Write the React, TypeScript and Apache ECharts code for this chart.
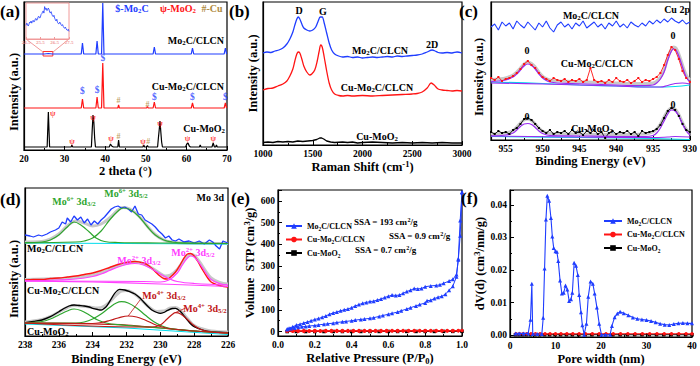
import React, { useEffect, useRef } from 'react';
import * as echarts from 'echarts';

const FF = 'Liberation Serif, Times New Roman, serif';
const BLUE = '#1f3dff';
const RED = '#ff1414';
const BLACK = '#000000';
const BROWN = '#b08a3e';
const GREEN = '#2ea62e';
const MAGENTA = '#ff40ff';
const PURPLE = '#9a2cf0';
const CYAN = '#00dcec';
const DARKRED = '#c01818';
const GREY = '#c8c8c8';
const PINK = '#f09a9a';

// ---------- (a) XRD ----------
const xrdMo2C = [[20,96],[25,96],[26,96.5],[27,96],[34.1,96],[34.4,107],[34.7,96],[37.7,96],[38.0,109],[38.3,96],[39.1,96],[39.4,147],[39.7,96],[51.8,96],[52.1,103],[52.4,96],[61.2,96],[61.5,102],[61.8,96],[69.3,96],[69.6,102],[69.9,96],[70,96]];
const xrdCuMo2C = [[20,42],[34.1,42],[34.4,51],[34.7,42],[37.7,42],[38.0,53],[38.3,42],[39.1,42],[39.4,87],[39.7,42],[43.1,42],[43.3,45],[43.5,42],[50.2,42],[50.4,43.5],[50.6,42],[51.8,42],[52.1,48],[52.4,42],[61.2,42],[61.5,47],[61.8,42],[69.3,42],[69.6,47],[69.9,42],[70,42]];
const xrdCuMoO2 = [[20,3],[25.7,3],[26.0,38],[26.3,3],[31.6,3],[31.8,5],[32.0,3],[36.6,3],[36.8,20],[37.0,35],[37.2,28],[37.4,12],[37.6,3],[41.0,3],[41.3,6],[41.6,4],[42,3],[43.1,3],[43.3,10],[43.5,3],[49.3,3],[49.5,5],[49.7,3],[50.2,3],[50.4,4.5],[50.6,3],[52.9,3],[53.1,12],[53.3,20],[53.5,29],[53.7,18],[53.9,8],[54.1,3],[59.8,3],[60.1,6],[60.4,7],[60.7,4],[61,3],[63.2,3],[63.4,5],[63.6,3],[66.3,3],[66.6,7],[66.9,3],[67.2,3],[67.4,5],[67.6,3],[70,3]];
const xrdInset = [[24.5,38],[24.55,44],[24.6,42],[24.65,36],[24.7,40],[24.75,47],[24.8,45],[24.85,50],[24.9,44],[24.95,49],[25.0,52],[25.05,47],[25.1,49],[25.15,56],[25.2,57],[25.25,52],[25.3,55],[25.35,62],[25.4,63],[25.45,58],[25.5,60],[25.55,68],[25.6,70],[25.65,75],[25.7,78],[25.75,72],[25.8,90],[25.85,82],[25.9,86],[25.95,79],[26.0,80],[26.05,86],[26.1,83],[26.15,75],[26.2,72],[26.25,76],[26.3,69],[26.35,64],[26.4,62],[26.45,66],[26.5,58],[26.55,53],[26.6,50],[26.65,55],[26.7,46],[26.75,43],[26.8,42],[26.85,47],[26.9,45],[26.95,39],[27.0,37],[27.05,40],[27.1,35],[27.15,31],[27.2,30],[27.25,33],[27.3,28],[27.35,25],[27.4,24],[27.45,27],[27.5,21]];
const xrdMarkS = [[34.4,59],[38.0,60],[39.4,92],[52.1,53],[61.5,53],[69.6,53]];
const xrdMarkCu = [[43.3,50],[50.4,46],[43.3,14],[50.6,9]];
const xrdMarkPsi = [[27.1,37],[31.8,9],[37.0,33],[41.4,12],[49.3,9],[53.5,27],[60.3,12],[66.6,12]];

// ---------- (b) Raman ----------
const ramanMo2C = [[1000,92],[1040,93],[1080,92.5],[1120,94],[1160,95],[1200,97],[1240,101],[1270,106],[1300,113],[1320,120],[1340,126],[1355,128],[1370,126],[1390,121],[1410,117],[1440,115],[1470,114],[1500,115],[1530,118],[1555,124],[1575,128],[1595,128],[1615,122],[1640,112],[1665,102],[1690,95],[1720,91],[1760,89],[1800,88],[1850,88.5],[1900,87.5],[1950,88],[2000,87],[2050,87.5],[2100,88],[2150,87.5],[2200,88],[2250,88.5],[2300,88],[2350,89],[2400,88.5],[2450,89],[2500,89.5],[2550,90],[2600,91],[2650,93],[2700,95],[2730,94],[2760,92.5],[2800,92],[2850,92.5],[2900,92],[2950,93],[3000,92]];
const ramanCuMo2C = [[1000,55],[1050,56.5],[1100,57],[1150,59],[1200,61],[1240,64],[1270,69],[1300,76],[1320,84],[1340,91],[1355,93],[1370,92],[1390,86],[1410,79],[1440,73],[1470,70],[1490,71],[1520,75],[1545,84],[1565,94],[1580,100],[1595,98],[1615,88],[1640,74],[1665,62],[1690,55],[1720,51],[1760,49.5],[1800,49],[1850,49.5],[1900,49],[2000,49.5],[2100,49],[2200,49.5],[2300,50],[2400,50.5],[2500,51],[2550,51.5],[2600,53],[2650,57],[2690,62],[2720,60],[2760,56],[2800,55],[2850,54.5],[2900,54],[2950,54.5],[3000,54]];
const ramanCuMoO2 = [[1000,2.5],[1050,3],[1100,2.5],[1150,3.5],[1200,3],[1250,3.5],[1300,3],[1350,4],[1400,3.5],[1450,4],[1500,4.5],[1540,5.5],[1570,7],[1590,7],[1610,6],[1640,4],[1680,3],[1720,2.5],[1800,3],[1850,2.5],[1900,3],[1950,2],[2000,2.5],[2100,3],[2200,2.5],[2300,2],[2400,2.5],[2500,2],[2600,2.5],[2700,2],[2800,2.5],[2900,2],[3000,2]];

// ---------- (c) Cu 2p ----------
const cuMo2C = [[957,113],[956.5,116],[956,110],[955.5,118],[955,114],[954.5,117],[954,111],[953.5,119],[953,115],[952.5,112],[952,118],[951.5,114],[951,110],[950.5,117],[950,113],[949.5,119],[949,112],[948.5,108],[948,115],[947.5,118],[947,113],[946.5,116],[946,111],[945.5,117],[945,114],[944.5,119],[944,112],[943.5,115],[943,118],[942.5,113],[942,116],[941.5,111],[941,117],[940.5,114],[940,119],[939.5,113],[939,116],[938.5,112],[938,118],[937.5,115],[937,113],[936.5,117],[936,114],[935.5,119],[935,116],[934.5,120],[934,117],[933.5,121],[933,118],[932.5,122],[932,119],[931.5,117],[931,120],[930.5,116],[930,118]];
const cuCuMo2C = [[957,62],[956.5,60],[956,63],[955.5,59],[955,61],[954.5,62],[954,64],[953.5,67],[953,71],[952.5,76],[952,79],[951.5,75],[951,72],[950.5,67],[950,63],[949.5,61],[949,59],[948.5,62],[948,60],[947.5,59],[947,61],[946.5,58],[946,60],[945.5,59],[945,61],[944.5,58],[944,60],[943.5,72],[943,60],[942.5,58],[942,59],[941.5,57],[941,60],[940.5,58],[940,62],[939.5,59],[939,58],[938.5,60],[938,57],[937.5,59],[937,62],[936.5,58],[936,60],[935.5,59],[935,61],[934.5,63],[934,67],[933.5,75],[933,85],[932.5,93],[932,90],[931.5,81],[931,69],[930.5,62],[930,58]];
const cuFitCuMo2C = [[957,58.5],[956,59],[955,60],[954,63],[953.5,66],[953,70],[952.5,74],[952,76],[951.5,74.5],[951,71],[950.5,66],[950,62],[949.5,59.5],[949,58],[948,57],[946,56.5],[944,56],[942,55.5],[940,55],[938,54.5],[936,54.5],[935,55],[934.5,57],[934,61],[933.5,68],[933,80],[932.5,89],[932.2,91],[931.9,90],[931.5,84],[931,73],[930.5,63],[930,58]];
const cuEnvCuMo2C = [[957,60.5],[956,61],[955,62],[954,65],[953.5,68],[953,72],[952.5,76],[952,78],[951.5,76.5],[951,73],[950.5,68],[950,64],[949.5,61.5],[949,60],[948,59],[946,58.5],[944,58],[942,57.5],[940,57],[938,56.5],[936,56.5],[935,57],[934.5,59],[934,63],[933.5,70],[933,82],[932.5,91],[932.2,93],[931.9,92],[931.5,86],[931,75],[930.5,65],[930,60]];
const cuBaseCuMo2C = [[957,57],[950,56],[945,55],[940,54],[936,53],[934,53],[933,54.5],[932,56.5],[931,57],[930,56]];
const cuCyanCuMo2C = [[957,58],[950,56.5],[945,55],[940,54],[935,53],[932,53.5],[930,55]];
const cuCuMoO2 = [[957,8],[956.5,6],[956,9],[955.5,7],[955,8],[954.5,6],[954,10],[953.5,12],[953,16],[952.5,21],[952,22],[951.5,20],[951,16],[950.5,12],[950,9],[949.5,7],[949,10],[948.5,6],[948,8],[947.5,7],[947,9],[946.5,6],[946,10],[945.5,7],[945,8],[944.5,5],[944,9],[943.5,7],[943,10],[942.5,6],[942,8],[941.5,2],[941,7],[940.5,9],[940,6],[939.5,8],[939,7],[938.5,9],[938,6],[937.5,8],[937,4],[936.5,9],[936,7],[935.5,8],[935,9],[934.5,11],[934,15],[933.5,22],[933,29],[932.5,32],[932,30],[931.5,24],[931,16],[930.5,10],[930,8]];
const cuFitCuMoO2 = [[957,4],[955,5],[954,7],[953.5,10],[953,13.5],[952.5,16],[952,16.5],[951.5,15.5],[951,12.5],[950.5,9],[950,6.5],[949,4.5],[945,4],[940,3.5],[936,3.5],[935,4.5],[934.5,7],[934,12],[933.5,19],[933,26],[932.5,30],[932,29],[931.5,24],[931,16],[930.5,9],[930,5]];
const cuEnvCuMoO2 = [[957,6],[955,7],[954,9.5],[953.5,13],[953,17],[952.5,20],[952,21],[951.5,19.5],[951,16],[950.5,12],[950,9],[949,6.5],[945,6],[940,5.5],[936,6],[935,8],[934.5,11],[934,16],[933.5,23],[933,29],[932.5,32],[932,31],[931.5,25.5],[931,17.5],[930.5,11],[930,7]];
const cuBaseCuMoO2 = [[957,4],[945,3],[935,2.5],[933,3],[932,3.5],[930,3]];
const cuCyanCuMoO2 = [[957,3.5],[945,2.5],[935,1.5],[930,0.5]];

// ---------- (d) Mo 3d ----------
const moMo2C = [[238,100],[237.7,99],[237.5,98],[237.2,100],[237,99],[236.7,101],[236.5,103],[236.2,105],[236,107],[235.8,113],[235.6,111],[235.5,117],[235.3,113],[235.1,119],[234.9,115],[234.7,118],[234.5,112],[234.3,116],[234.1,110],[233.9,114],[233.7,111],[233.5,115],[233.3,118],[233.1,122],[232.9,126],[232.7,128],[232.5,129],[232.3,127],[232.1,128],[231.9,126],[231.7,123],[231.5,129],[231.3,121],[231.1,120],[230.9,115],[230.7,113],[230.5,111],[230.3,108],[230.1,104],[229.9,101],[229.7,97],[229.5,99],[229.3,95],[229.1,94],[228.9,96],[228.6,93],[228.3,94],[228,92],[227.7,94],[227.4,91],[227.1,95],[226.9,93],[226.7,89],[226.5,86],[226.3,94],[226,92]];
const moG1 = [[238,92.5],[237,93],[236.5,95],[236,100],[235.5,108],[235.1,113],[234.7,110],[234.2,103],[233.8,97],[233.3,93.5],[232.5,92.5],[230,92],[226,91.5]];
const moG2 = [[238,92],[235,93],[234.5,94],[234,97],[233.5,104],[233,115],[232.5,124],[232.2,127],[231.8,125.5],[231.3,119],[230.8,109],[230.3,100],[229.8,95],[229.3,93],[228.5,92],[226,91.5]];
const moEnvMo2C = [[238,93],[237,93.5],[236.5,96],[236,101],[235.5,109],[235,114],[234.5,112],[234,109],[233.5,111],[233,117],[232.5,125],[232.2,127.5],[231.8,126],[231.3,119.5],[230.8,109.5],[230.3,100.5],[229.8,95],[229.3,93],[228.5,92],[226,91.5]];
const moCyan1 = [[238,92],[232,91.5],[226,91]];
const moCuMo2C = [[238,55],[237.5,55.5],[237,55.5],[236.5,56.5],[236,57],[235.5,58],[235,59],[234.5,60.5],[234,62],[233.5,64.5],[233,67.5],[232.5,70.5],[232,72.5],[231.5,73.5],[231,72],[230.7,69.5],[230.4,65],[230.1,60],[229.8,56.5],[229.6,56],[229.4,58],[229.1,63],[228.8,71],[228.6,77],[228.4,81],[228.2,81.5],[228,79],[227.8,74],[227.5,65],[227.2,57],[227,53],[226.7,50.5],[226.4,49],[226,48]];
const moM1 = [[238,54],[236,55],[235,56],[234,58.5],[233.5,61],[233,64.5],[232.5,68],[232,70.5],[231.5,71.5],[231,70],[230.5,66],[230,61],[229.5,56.5],[229,53.5],[228,51.5],[226,50]];
const moM2 = [[238,54],[231,53.5],[230,53],[229.5,55],[229,62],[228.7,70],[228.4,77],[228.2,79],[228,78],[227.7,72],[227.3,62],[227,55.5],[226.5,51.5],[226,50]];
const moMBase = [[238,54],[234,53],[230,51],[226,48.5]];
const moEnvCuMo2C = [[238,55.5],[236,56.5],[235,57.5],[234,60],[233.5,62.5],[233,66],[232.5,69.5],[232,72],[231.5,73],[231,71.5],[230.5,67],[230,61.5],[229.7,59],[229.4,60],[229,65.5],[228.7,72.5],[228.4,79],[228.2,80.5],[228,79.5],[227.7,73.5],[227.3,63.5],[227,57],[226.5,52.5],[226,51]];
const moCuMoO2 = [[238,12.3],[237.5,13.5],[237,15],[236.5,18.3],[236,23.3],[235.7,26.5],[235.4,29],[235.1,30],[234.8,29.5],[234.5,29],[234.2,28],[234,26.7],[233.7,25.5],[233.5,25],[233.2,28.3],[233,33.3],[232.7,41.7],[232.4,45.7],[232.1,45],[231.8,43.3],[231.5,41],[231.2,37],[231,33.3],[230.7,28],[230.5,25],[230.2,22.5],[230,21.7],[229.8,22.5],[229.6,24.3],[229.3,26.5],[229.1,26.7],[228.8,23.3],[228.6,19],[228.4,15],[228.2,11],[228,8.3],[227.5,5],[227,3.3],[226.5,2.8],[226,2.3]];
const moG3 = [[238,12.2],[237,13.5],[236.5,16],[236,20],[235.5,24],[235.1,26],[234.7,24.5],[234.2,20],[233.7,15],[233.2,12],[232.5,10.3],[230,7],[228,4],[226,2]];
const moG4 = [[238,12],[235,12],[234.5,13],[234,16],[233.5,21],[233,27.5],[232.6,32],[232.3,33.3],[231.9,32],[231.4,27],[230.9,20],[230.4,13.5],[229.9,9],[229.4,6.5],[228,4],[226,2]];
const moR5 = [[238,12],[234,11.5],[233.5,12.5],[233,14.5],[232.5,17],[231.9,19],[231.4,18],[230.9,15],[230.4,11],[230,8.5],[229.5,6.5],[228,4],[226,2]];
const moR6 = [[238,12],[231,8],[230.5,8],[230,10],[229.6,16],[229.3,20.5],[229.1,22.3],[228.8,21],[228.4,15.5],[228,9.5],[227.6,5.5],[227,3],[226,2]];
const moRBase = [[238,12],[234,11],[232,10],[230,7],[228,4],[226,2]];
const moCyan3 = [[238,11],[232,7],[226,0.5]];
const moEnvCuMoO2 = [[238,13],[237,15.5],[236.5,18.5],[236,23],[235.5,27.5],[235.1,29.5],[234.7,29],[234.2,28],[233.7,27],[233.3,29],[233,33],[232.6,40],[232.3,44],[232,44.5],[231.7,43],[231.3,38],[231,33],[230.6,27],[230.2,23.5],[229.8,24],[229.4,27],[229.1,27.5],[228.8,24.5],[228.4,16.5],[228,9.5],[227.5,6],[227,4],[226,3]];
const moArrow1 = [[231.2,35],[231.9,19]];
const moArrow2 = [[228.5,27],[229.1,22.5]];

// ---------- (e) N2 isotherms ----------
const isoMo2CAds = [[0.05,10],[0.07,14],[0.09,17],[0.11,20],[0.13,22],[0.15,24],[0.17,26],[0.2,28],[0.22,31],[0.25,34],[0.27,36],[0.3,39],[0.32,42],[0.35,45],[0.37,47],[0.4,50],[0.42,53],[0.45,56],[0.47,58],[0.5,61],[0.52,64],[0.55,70],[0.57,74],[0.6,80],[0.62,84],[0.65,90],[0.67,96],[0.7,104],[0.72,110],[0.75,118],[0.77,124],[0.8,132],[0.81,142],[0.83,144],[0.85,152],[0.87,158],[0.89,162],[0.91,172],[0.93,190],[0.95,208],[0.97,252],[0.98,335],[0.99,510],[1.0,640]];
const isoMo2CDes = [[1.0,640],[0.99,440],[0.98,330],[0.97,262],[0.95,240],[0.93,232],[0.9,222],[0.88,215],[0.86,212],[0.83,210],[0.8,206],[0.78,198],[0.76,196],[0.74,198],[0.72,190],[0.7,184],[0.68,176],[0.66,168],[0.64,166],[0.62,168],[0.6,162],[0.58,157],[0.56,150],[0.54,145],[0.52,140],[0.5,138],[0.48,134],[0.46,130],[0.44,124],[0.42,118],[0.4,110],[0.38,104],[0.36,100],[0.34,96],[0.32,90],[0.3,86],[0.28,80],[0.26,72],[0.24,66],[0.22,60],[0.2,56],[0.18,50],[0.16,44],[0.14,40],[0.12,34],[0.1,30],[0.08,22],[0.06,16],[0.05,12]];
const isoCuMo2C = [[0.05,1.5],[0.08,1.6],[0.11,1.5],[0.14,1.7],[0.17,1.6],[0.2,1.8],[0.23,1.7],[0.26,1.9],[0.29,1.8],[0.32,2],[0.35,1.9],[0.38,2.1],[0.41,2],[0.44,2.2],[0.47,2.1],[0.5,2.3],[0.53,2.2],[0.56,2.4],[0.59,2.3],[0.62,2.5],[0.65,2.4],[0.68,2.6],[0.71,2.5],[0.74,2.7],[0.77,2.6],[0.8,2.8],[0.83,2.7],[0.86,2.9],[0.89,2.8],[0.92,3],[0.95,3.2],[0.98,3.6],[1.0,5],[0.98,5.2],[0.95,5.1],[0.92,5.2],[0.89,5.1],[0.86,5.2],[0.83,5],[0.8,5.1],[0.77,5],[0.74,5.1],[0.71,4.9],[0.68,5],[0.65,4.9],[0.62,5],[0.59,4.8],[0.56,4.9],[0.53,4.8],[0.5,4.9],[0.47,4.7],[0.44,4.8],[0.41,4.7],[0.38,4.8],[0.35,4.6],[0.32,4.7],[0.29,4.6],[0.26,4.7],[0.23,4.5],[0.2,4.6],[0.17,4.5],[0.14,4.6],[0.11,4.4],[0.08,4.5],[0.05,4.4]];
const isoCuMoO2 = [[0.05,0.4],[0.1,0.5],[0.15,0.5],[0.2,0.6],[0.25,0.6],[0.3,0.7],[0.35,0.7],[0.4,0.7],[0.45,0.8],[0.5,0.8],[0.55,0.8],[0.6,0.9],[0.65,0.9],[0.7,0.9],[0.75,1],[0.8,1],[0.85,1],[0.9,1.1],[0.95,1.2],[1.0,1.5]];

// ---------- (f) pore size distribution ----------
const psdMo2C = [[1.2,0.0005],[2.0,0.0005],[3.0,0.0005],[4.0,0.0005],[4.5,0.0047],[4.8,0.0158],[5.0,0.0003],[6.0,0.0003],[7.0,0.0003],[7.3,0.0053],[7.6,0.0205],[7.9,0.0355],[8.2,0.0428],[8.6,0.0413],[9.0,0.0360],[9.3,0.0303],[9.6,0.0268],[10.0,0.0258],[10.3,0.0256],[10.6,0.0228],[11.0,0.0168],[11.4,0.0128],[11.8,0.0130],[12.2,0.0152],[12.6,0.0140],[13.0,0.0105],[13.4,0.0110],[13.7,0.0130],[14.1,0.0222],[14.5,0.0213],[14.9,0.0185],[15.2,0.0123],[15.6,0.0070],[15.9,0.0030],[16.3,0.0001],[16.8,0.0035],[17.2,0.0118],[17.7,0.0165],[18.2,0.0158],[18.6,0.0128],[19.1,0.0085],[19.6,0.0035],[20.1,0.0001],[21.0,0.0001],[22.0,0.0001],[22.4,0.0028],[23.0,0.0055],[23.6,0.0066],[24.2,0.0072],[25.0,0.0067],[26.0,0.0061],[27.0,0.0054],[28.0,0.0050],[29.0,0.0048],[30.0,0.0046],[31.0,0.0043],[32.0,0.0039],[33.0,0.0035],[34.0,0.0032],[35.0,0.0031],[36.0,0.0034],[37.0,0.0036],[38.0,0.0037],[39.0,0.0036],[40.0,0.0036]];
const psdCuMo2C = [[1.3,0.0004],[2.1,0.0004],[2.9,0.0004],[3.7,0.0004],[4.6,0.0004],[5.6,0.0004],[6.6,0.0004],[7.7,0.0004],[8.8,0.0004],[10.0,0.0004],[11.2,0.0004],[12.5,0.0004],[13.8,0.0004],[15.2,0.0004],[16.6,0.0004],[18.1,0.0004],[19.6,0.0004],[21.1,0.0004],[22.7,0.0004],[24.3,0.0004],[25.9,0.0004],[27.5,0.0004],[29.1,0.0004],[30.7,0.0004],[32.3,0.0004],[33.9,0.0004],[35.5,0.0004],[37.1,0.0004],[38.7,0.0004],[40.0,0.0004]];
const psdCuMoO2 = [[1.2,0.0001],[2.0,0.0001],[2.8,0.0001],[3.6,0.0001],[4.5,0.0001],[5.5,0.0001],[6.5,0.0001],[7.6,0.0001],[8.7,0.0001],[9.9,0.0001],[11.1,0.0001],[12.4,0.0001],[13.7,0.0001],[15.1,0.0001],[16.5,0.0001],[18.0,0.0001],[19.5,0.0001],[21.0,0.0001],[22.6,0.0001],[24.2,0.0001],[25.8,0.0001],[27.4,0.0001],[29.0,0.0001],[30.6,0.0001],[32.2,0.0001],[33.8,0.0001],[35.4,0.0001],[37.0,0.0001],[38.6,0.0001],[40.0,0.0001]];

const LEGEND_NAMES: Record<string, string> = {
  e1: 'Mo_2C/CLCN', e2: 'Cu-Mo_2C/CLCN', e3: 'Cu-MoO_2',
  f1: 'Mo_2C/CLCN', f2: 'Cu-Mo_2C/CLCN', f3: 'Cu-MoO_2',
};

// ---------- helpers ----------
function rich(size: number, color: string) {
  const base = { fontFamily: FF, fontWeight: 'bold', color, fill: color };
  const small = Math.round(size * 0.68 * 10) / 10;
  return {
    n: { ...base, fontSize: size, lineHeight: Math.round(size * 1.2) },
    b: { ...base, fontSize: small, lineHeight: Math.round(size * 0.6), verticalAlign: 'bottom' },
    p: { ...base, fontSize: small, lineHeight: Math.round(size * 0.6), verticalAlign: 'top' },
  };
}
function rt(s: string) {
  let out = '';
  let buf = '';
  const flush = () => { if (buf) { out += `{n|${buf}}`; buf = ''; } };
  for (let i = 0; i < s.length; i++) {
    const c = s[i];
    if (c === '_' || c === '^') {
      let t = '';
      if (s[i + 1] === '{') { const j = s.indexOf('}', i + 2); t = s.slice(i + 2, j); i = j; }
      else { t = s[i + 1]; i++; }
      flush();
      out += `{${c === '_' ? 'b' : 'p'}|${t}}`;
    } else buf += c;
  }
  flush();
  return out;
}
function gt(text: string, x: number, y: number, size: number, color: string, align = 'center') {
  return {
    type: 'text', x, y, z: 100, silent: true,
    style: {
      text: rt(text), rich: rich(size, color), fill: color,
      fontFamily: FF, fontWeight: 'bold', fontSize: size,
      align, textAlign: align, verticalAlign: 'middle', textVerticalAlign: 'middle',
    },
  };
}
function ln(name: string, ai: number, data: number[][], color: string, width = 1.2, extra: any = {}) {
  return {
    type: 'line', name, xAxisIndex: ai, yAxisIndex: ai, data,
    showSymbol: false, symbol: 'none', silent: true,
    lineStyle: { color, width }, itemStyle: { color }, z: 3, ...extra,
  };
}
function mk(ai: number, data: number[][], ch: string, color: string, size: number) {
  return {
    type: 'scatter', xAxisIndex: ai, yAxisIndex: ai, data, symbolSize: 1, silent: true,
    itemStyle: { color: 'rgba(0,0,0,0)' }, z: 5,
    label: { show: true, position: 'inside', formatter: ch, color, fontFamily: FF, fontWeight: 'bold', fontSize: size },
  };
}

const axisLine = { show: true, onZero: false, lineStyle: { color: '#000', width: 1.2 } };
const tickLabel = { color: '#000', fontFamily: FF, fontWeight: 'bold', fontSize: 9.5, margin: 4, formatter: (v: number) => String(v) };
const nameStyle = (pad: number[] = [0, 0, 0, 0]) => ({
  fontFamily: FF, fontWeight: 'bold', fontSize: 12.5, color: '#000', rich: rich(12.5, '#000'), padding: pad,
});

function xA(gi: number, min: number, max: number, interval: number, name: string, gap: number, extra: any = {}) {
  return {
    type: 'value', gridIndex: gi, min, max, interval, axisLine,
    axisTick: { show: true, inside: true, length: 4, lineStyle: { color: '#000', width: 1 } },
    minorTick: { show: true, splitNumber: 2, length: 2, lineStyle: { color: '#000', width: 1 } },
    axisLabel: { ...tickLabel, ...(extra.axisLabel || {}) },
    splitLine: { show: false }, minorSplitLine: { show: false },
    name: rt(name), nameLocation: 'middle', nameGap: gap, nameTextStyle: nameStyle(),
    inverse: !!extra.inverse,
  };
}
function yBlank(gi: number, min: number, max: number, name: string, gap: number, pad: number[]) {
  return {
    type: 'value', gridIndex: gi, min, max, axisLine,
    axisTick: { show: false }, axisLabel: { show: false }, splitLine: { show: false },
    name: rt(name), nameLocation: 'middle', nameRotate: 90, nameGap: gap, nameTextStyle: nameStyle(pad),
  };
}

const App: React.FC = () => {
  const ref = useRef<HTMLDivElement>(null);
  useEffect(() => {
    if (!ref.current) return;
    const chart = echarts.init(ref.current, undefined, { renderer: 'svg' });
    const gridBase = { show: true, borderColor: '#000', borderWidth: 1.2, backgroundColor: 'rgba(0,0,0,0)', containLabel: false };
    const grid: any[] = [
      { left: 24, top: 2, width: 203, height: 148 },
      { left: 263, top: 2, width: 199, height: 143 },
      { left: 491, top: 2, width: 201, height: 138 },
      { left: 25, top: 188, width: 203, height: 148 },
      { left: 278, top: 190, width: 184, height: 148 },
      { left: 510, top: 190, width: 182, height: 148 },
    ].map(g => ({ ...gridBase, ...g }));
    grid.push({ ...gridBase, left: 26, top: 3, width: 43, height: 36, borderColor: PINK, borderWidth: 1 });

    const xAxis = [
      xA(0, 20, 70, 10, '2 theta (°)', 13),
      xA(1, 1000, 3000, 500, 'Raman Shift (cm^{-1})', 13),
      xA(2, 930, 957, 5, 'Binding Energy (eV)', 13, { inverse: true, axisLabel: { formatter: (v: number) => (v % 5 === 0 ? String(v) : '') } }),
      xA(3, 226, 238, 2, 'Binding Energy (eV)', 15, { inverse: true }),
      xA(4, 0, 1, 0.2, 'Relative Pressure (P/P_0)', 14, { axisLabel: { formatter: (v: number) => v.toFixed(1) } }),
      xA(5, 0, 40, 10, 'Pore width (nm)', 14),
      {
        type: 'value', gridIndex: 6, min: 24.5, max: 27.5, interval: 1,
        axisLine: { show: true, onZero: false, lineStyle: { color: PINK, width: 1 } },
        axisTick: { show: true, inside: true, length: 2, lineStyle: { color: PINK } },
        axisLabel: { color: PINK, fontSize: 5, margin: 1, fontFamily: FF },
        splitLine: { show: false },
      },
    ];
    const yAxis = [
      yBlank(0, 0, 148, 'Intensity (a.u.)', 3, [0, 32, 0, 0]),
      yBlank(1, 0, 143, 'Intensity (a.u.)', 3, [0, 0, 0, 0]),
      yBlank(2, 0, 138, 'Intensity (a.u.)', 5, [0, 12, 0, 0]),
      yBlank(3, -1, 147, 'Intensity (a.u.)', 4, [0, 34, 0, 0]),
      {
        type: 'value', gridIndex: 4, min: -20, max: 650, splitNumber: 7, axisLine,
        axisTick: { show: true, inside: true, length: 4, lineStyle: { color: '#000' } },
        minorTick: { show: true, splitNumber: 2, length: 2, lineStyle: { color: '#000' } },
        axisLabel: { ...tickLabel, margin: 3, formatter: (v: number) => (v >= 0 && v % 100 === 0 && v <= 600 ? String(v) : '') },
        splitLine: { show: false },
        name: rt('Volume  STP (cm^3/g)'), nameLocation: 'middle', nameRotate: 90, nameGap: 19, nameTextStyle: nameStyle(),
      },
      {
        type: 'value', gridIndex: 5, min: -0.0006, max: 0.0446, splitNumber: 5, axisLine,
        axisTick: { show: true, inside: true, length: 4, lineStyle: { color: '#000' } },
        minorTick: { show: true, splitNumber: 2, length: 2, lineStyle: { color: '#000' } },
        axisLabel: {
          ...tickLabel, margin: 3,
          formatter: (v: number) => (v >= -1e-9 && Math.abs(v * 100 - Math.round(v * 100)) < 1e-6 && v < 0.0441 ? v.toFixed(2) : ''),
        },
        splitLine: { show: false },
        name: rt('dV(d) (cm^3/nm/g)'), nameLocation: 'middle', nameRotate: 90, nameGap: 18, nameTextStyle: nameStyle(),
      },
      { type: 'value', gridIndex: 6, min: 0, max: 100, show: false },
    ];

    const series: any[] = [
      // (a)
      ln('a1', 0, xrdMo2C, BLUE, 1.2, {
        markArea: {
          silent: true,
          itemStyle: { color: 'rgba(0,0,0,0)', borderColor: '#ff3030', borderWidth: 1 },
          data: [[{ coord: [24.7, 94] }, { coord: [27.1, 98.5] }]],
        },
      }),
      ln('a2', 0, xrdCuMo2C, RED),
      ln('a3', 0, xrdCuMoO2, BLACK),
      ln('ain', 6, xrdInset, BLUE, 0.8),
      mk(0, xrdMarkS, '$', BLUE, 9.5),
      mk(0, xrdMarkPsi, 'ψ', RED, 8),
      mk(0, xrdMarkCu, '#', BROWN, 8),
      // (b)
      ln('b1', 1, ramanMo2C, BLUE, 1.3, { smooth: 0.3 }),
      ln('b2', 1, ramanCuMo2C, RED, 1.3, { smooth: 0.3 }),
      ln('b3', 1, ramanCuMoO2, BLACK, 1.3),
      // (c)
      ln('c1', 2, cuMo2C, BLUE, 1.1),
      ln('c2env', 2, cuEnvCuMo2C, GREY, 3, { smooth: 0.4, z: 2 }),
      ln('c2', 2, cuCuMo2C, RED, 0.9, { showSymbol: true, symbol: 'rect', symbolSize: 2 }),
      ln('c2cy', 2, cuCyanCuMo2C, CYAN, 1.2, { smooth: 0.4 }),
      ln('c2base', 2, cuBaseCuMo2C, PURPLE, 1.1, { smooth: 0.4 }),
      ln('c2fit', 2, cuFitCuMo2C, PURPLE, 1.2, { smooth: 0.4 }),
      ln('c3env', 2, cuEnvCuMoO2, GREY, 3, { smooth: 0.4, z: 2 }),
      ln('c3', 2, cuCuMoO2, BLACK, 0.9, { showSymbol: true, symbol: 'rect', symbolSize: 2 }),
      ln('c3cy', 2, cuCyanCuMoO2, CYAN, 1.2, { smooth: 0.4 }),
      ln('c3base', 2, cuBaseCuMoO2, PURPLE, 1.1, { smooth: 0.4 }),
      ln('c3fit', 2, cuFitCuMoO2, PURPLE, 1.2, { smooth: 0.4 }),
      // (d)
      ln('d1env', 3, moEnvMo2C, GREY, 3, { smooth: 0.4, z: 2 }),
      ln('d1', 3, moMo2C, BLUE, 1.3),
      ln('d1cy', 3, moCyan1, CYAN, 1.2),
      ln('d1g1', 3, moG1, GREEN, 1.2, { smooth: 0.4 }),
      ln('d1g2', 3, moG2, GREEN, 1.2, { smooth: 0.4 }),
      ln('d2env', 3, moEnvCuMo2C, GREY, 3, { smooth: 0.4, z: 2 }),
      ln('d2', 3, moCuMo2C, RED, 1.4, { smooth: 0.3 }),
      ln('d2base', 3, moMBase, MAGENTA, 1.2, { smooth: 0.4 }),
      ln('d2m1', 3, moM1, MAGENTA, 1.2, { smooth: 0.4 }),
      ln('d2m2', 3, moM2, MAGENTA, 1.2, { smooth: 0.4 }),
      ln('d3env', 3, moEnvCuMoO2, GREY, 3, { smooth: 0.4, z: 2 }),
      ln('d3', 3, moCuMoO2, BLACK, 1.3, { smooth: 0.3 }),
      ln('d3cy', 3, moCyan3, CYAN, 1.2),
      ln('d3base', 3, moRBase, DARKRED, 1.1, { smooth: 0.4 }),
      ln('d3g3', 3, moG3, GREEN, 1.2, { smooth: 0.4 }),
      ln('d3g4', 3, moG4, GREEN, 1.2, { smooth: 0.4 }),
      ln('d3r5', 3, moR5, DARKRED, 1.2, { smooth: 0.4 }),
      ln('d3r6', 3, moR6, DARKRED, 1.2, { smooth: 0.4 }),
      ln('d3a1', 3, moArrow1, DARKRED, 0.8),
      ln('d3a2', 3, moArrow2, DARKRED, 0.8),
      // (e)
      ln('e3', 4, isoCuMoO2, BLACK, 1, { showSymbol: true, symbol: 'rect', symbolSize: 3.5, z: 3 }),
      ln('e2', 4, isoCuMo2C, RED, 1, { showSymbol: true, symbol: 'circle', symbolSize: 3.5, z: 4 }),
      ln('e1', 4, [...isoMo2CAds, ...isoMo2CDes], BLUE, 1, { showSymbol: true, symbol: 'triangle', symbolSize: 4, z: 5 }),
      // (f)
      ln('f3', 5, psdCuMoO2, BLACK, 1, { showSymbol: true, symbol: 'rect', symbolSize: 3.5, z: 3 }),
      ln('f2', 5, psdCuMo2C, RED, 1, { showSymbol: true, symbol: 'circle', symbolSize: 3.5, z: 4 }),
      ln('f1', 5, psdMo2C, BLUE, 1.1, { showSymbol: true, symbol: 'triangle', symbolSize: 4, z: 5 }),
    ];

    const legendBase = {
      orient: 'vertical', itemWidth: 16, itemHeight: 7, itemGap: 3.5, selectedMode: false,
      formatter: (n: string) => rt(LEGEND_NAMES[n] || n),
      textStyle: { fontFamily: FF, fontWeight: 'bold', fontSize: 8, color: '#000', lineHeight: 11, rich: rich(8, '#000') },
    };
    const legend = [
      { ...legendBase, data: ['e1', 'e2', 'e3'], left: 280, top: 216 },
      { ...legendBase, data: ['f1', 'f2', 'f3'], left: 598, top: 211, itemWidth: 18 },
    ];

    const graphic = [
      gt('(a)', 0, 11, 17, BLACK, 'left'),
      gt('(b)', 229, 11, 17, BLACK, 'left'),
      gt('(c)', 459, 11, 17, BLACK, 'left'),
      gt('(d)', 0, 199, 17, BLACK, 'left'),
      gt('(e)', 231, 198, 17, BLACK, 'left'),
      gt('(f)', 461, 198, 17, BLACK, 'left'),
      // (a)
      gt('$-Mo_2C', 132, 8, 10, BLUE),
      gt('ψ-MoO_2', 178, 8, 10, RED),
      gt('#-Cu', 212, 8, 10, BROWN),
      gt('Mo_2C/CLCN', 224, 40, 10, BLACK, 'right'),
      gt('Cu-Mo_2C/CLCN', 224, 86, 10, BLACK, 'right'),
      gt('Cu-MoO_2', 225, 128, 10, BLACK, 'right'),
      { type: 'line', silent: true, z: 50, shape: { x1: 26, y1: 39, x2: 43, y2: 52 }, style: { stroke: PINK, lineWidth: 1 } },
      { type: 'line', silent: true, z: 50, shape: { x1: 69, y1: 39, x2: 53, y2: 52 }, style: { stroke: PINK, lineWidth: 1 } },
      // (b)
      gt('D', 299, 10, 10, BLACK),
      gt('G', 323, 11, 10, BLACK),
      gt('2D', 432, 44, 10, BLACK),
      gt('Mo_2C/CLCN', 380, 50, 10, BLACK),
      gt('Cu-Mo_2C/CLCN', 377, 87, 10, BLACK),
      gt('Cu-MoO_2', 377, 136, 10, BLACK),
      // (c)
      gt('Cu 2p', 690, 9, 10, BLACK, 'right'),
      gt('Mo_2C/CLCN', 591, 15, 10, BLACK),
      gt('Cu-Mo_2C/CLCN', 597, 63, 10, BLACK),
      gt('Cu-MoO_2', 592, 128, 10, BLACK),
      gt('0', 527, 50, 10, BLACK),
      gt('0', 673, 35, 10, BLACK),
      gt('0', 527, 116, 10, BLACK),
      gt('0', 673, 104, 10, BLACK),
      // (d)
      gt('Mo 3d', 224, 197, 10, BLACK, 'right'),
      gt('Mo^{6+} 3d_{3/2}', 74, 201, 10, GREEN),
      gt('Mo^{6+} 3d_{5/2}', 126, 193, 10, GREEN),
      gt('Mo_2C/CLCN', 27, 248, 10, BLACK, 'left'),
      gt('Mo^{2+} 3d_{3/2}', 139, 260, 10, MAGENTA),
      gt('Mo^{2+} 3d_{5/2}', 193, 252, 10, MAGENTA),
      gt('Cu-Mo_2C/CLCN', 27, 290, 10, BLACK, 'left'),
      gt('Mo^{4+} 3d_{3/2}', 164, 295, 10, DARKRED),
      gt('Mo^{4+} 3d_{5/2}', 205, 308, 10, DARKRED),
      gt('Cu-MoO_2', 27, 331, 10, BLACK, 'left'),
      // (e)
      gt('SSA = 193 cm^2/g', 354, 222, 9, BLACK, 'left'),
      gt('SSA = 0.9 cm^2/g', 389, 236, 9, BLACK, 'left'),
      gt('SSA = 0.7 cm^2/g', 355, 250, 9, BLACK, 'left'),
    ];

    chart.setOption({
      animation: false,
      backgroundColor: '#ffffff',
      textStyle: { fontFamily: FF, fontWeight: 'bold' },
      grid, xAxis, yAxis, series, legend, graphic,
    });
    return () => chart.dispose();
  }, []);
  return <div ref={ref} style={{ position: 'fixed', left: 0, top: 0, width: 700, height: 366 }} />;
};

export default App;
